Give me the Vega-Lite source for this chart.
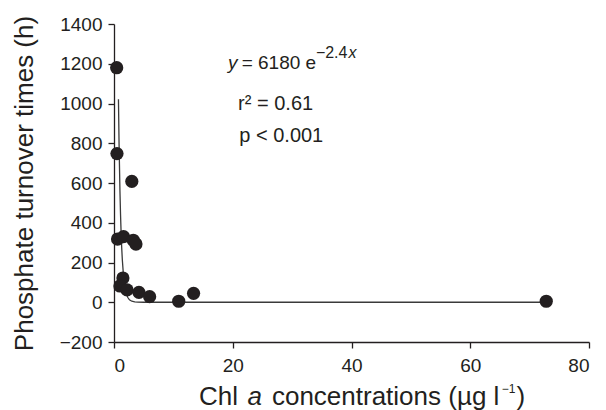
{
  "$schema": "https://vega.github.io/schema/vega-lite/v6.json",
  "width": 475,
  "height": 318,
  "autosize": "none",
  "padding": {"left": 114, "top": 24, "right": 17, "bottom": 68},
  "background": "white",
  "config": {
    "view": {"stroke": null},
    "font": "Liberation Sans",
    "axis": {
      "grid": false,
      "labelFont": "Liberation Sans",
      "labelFontSize": 19,
      "labelColor": "#231f20",
      "titleFont": "Liberation Sans",
      "titleFontSize": 26,
      "titleFontWeight": "normal",
      "titleColor": "#231f20",
      "domainColor": "#231f20",
      "tickColor": "#231f20",
      "domainWidth": 1.3,
      "tickWidth": 1.3,
      "tickSize": 6
    }
  },
  "datasets": {
    "points": [
      {"x": 0.45, "y": 1180},
      {"x": 0.5, "y": 748},
      {"x": 3.0, "y": 608},
      {"x": 0.6, "y": 318},
      {"x": 1.6, "y": 330},
      {"x": 3.25, "y": 312},
      {"x": 3.7, "y": 293},
      {"x": 1.5, "y": 122},
      {"x": 1.0, "y": 82},
      {"x": 2.2, "y": 62},
      {"x": 4.2, "y": 50},
      {"x": 6.0, "y": 28},
      {"x": 10.9, "y": 5},
      {"x": 13.4, "y": 45},
      {"x": 72.8, "y": 5}
    ],
    "fit": [
      {"x": 0.75, "y": 1021},
      {"x": 0.85, "y": 801},
      {"x": 1.0, "y": 561},
      {"x": 1.1, "y": 442},
      {"x": 1.2, "y": 347},
      {"x": 1.3, "y": 273},
      {"x": 1.4, "y": 215},
      {"x": 1.6, "y": 133},
      {"x": 1.8, "y": 82},
      {"x": 2.0, "y": 51},
      {"x": 2.3, "y": 25},
      {"x": 2.6, "y": 12},
      {"x": 3.0, "y": 5},
      {"x": 3.5, "y": 1.4},
      {"x": 4.0, "y": 0.4},
      {"x": 5.0, "y": 0},
      {"x": 73.0, "y": 0}
    ],
    "eqItalic": [
      {"x": 19.2, "y": 1176, "text": "y"}
    ],
    "eqMain": [
      {"x": 21.5, "y": 1176, "text": "= 6180 e"}
    ],
    "eqLines": [
      {"x": 20.9, "y": 969, "text": "r² = 0.61"},
      {"x": 21.1, "y": 805, "text": "p < 0.001"}
    ],
    "eqSuper": [
      {"x": 34.0, "y": 1227, "text": "−2.4"}
    ],
    "eqSuperItalic": [
      {"x": 39.5, "y": 1227, "text": "x"}
    ],
    "xtNormal": [
      {"x": 14.3, "y": -518, "text": "Chl"},
      {"x": 26.6, "y": -518, "text": "concentrations (µg l"},
      {"x": 67.8, "y": -518, "text": ")"}
    ],
    "xtItalic": [
      {"x": 22.5, "y": -518, "text": "a"}
    ],
    "xtSuper": [
      {"x": 65.3, "y": -455, "text": "−1"}
    ]
  },
  "encoding": {
    "x": {
      "field": "x",
      "type": "quantitative",
      "scale": {"domain": [0, 80], "nice": false, "zero": false},
      "axis": {"values": [0, 20, 40, 60, 80], "title": null, "labelPadding": 8}
    },
    "y": {
      "field": "y",
      "type": "quantitative",
      "scale": {"domain": [-200, 1400], "nice": false, "zero": false},
      "axis": {
        "values": [-200, 0, 200, 400, 600, 800, 1000, 1200, 1400],
        "format": "d",
        "title": "Phosphate turnover times (h)",
        "labelPadding": 6,
        "titlePadding": 22
      }
    }
  },
  "layer": [
    {
      "data": {"name": "fit"},
      "mark": {"type": "line", "color": "#3a3a3a", "strokeWidth": 1.3}
    },
    {
      "data": {"name": "points"},
      "mark": {"type": "point", "filled": true, "shape": "circle", "size": 175, "color": "#231f20", "opacity": 1}
    },
    {
      "data": {"name": "eqItalic"},
      "mark": {"type": "text", "align": "left", "baseline": "alphabetic", "fontSize": 19, "fontStyle": "italic", "color": "#231f20"},
      "encoding": {"text": {"field": "text"}}
    },
    {
      "data": {"name": "eqMain"},
      "mark": {"type": "text", "align": "left", "baseline": "alphabetic", "fontSize": 19, "color": "#231f20"},
      "encoding": {"text": {"field": "text"}}
    },
    {
      "data": {"name": "eqLines"},
      "mark": {"type": "text", "align": "left", "baseline": "alphabetic", "fontSize": 20, "color": "#231f20"},
      "encoding": {"text": {"field": "text"}}
    },
    {
      "data": {"name": "eqSuper"},
      "mark": {"type": "text", "align": "left", "baseline": "alphabetic", "fontSize": 16, "color": "#231f20"},
      "encoding": {"text": {"field": "text"}}
    },
    {
      "data": {"name": "eqSuperItalic"},
      "mark": {"type": "text", "align": "left", "baseline": "alphabetic", "fontSize": 16, "fontStyle": "italic", "color": "#231f20"},
      "encoding": {"text": {"field": "text"}}
    },
    {
      "data": {"name": "xtNormal"},
      "mark": {"type": "text", "align": "left", "baseline": "alphabetic", "fontSize": 26, "color": "#231f20"},
      "encoding": {"text": {"field": "text"}}
    },
    {
      "data": {"name": "xtItalic"},
      "mark": {"type": "text", "align": "left", "baseline": "alphabetic", "fontSize": 26, "fontStyle": "italic", "color": "#231f20"},
      "encoding": {"text": {"field": "text"}}
    },
    {
      "data": {"name": "xtSuper"},
      "mark": {"type": "text", "align": "left", "baseline": "alphabetic", "fontSize": 12, "color": "#231f20"},
      "encoding": {"text": {"field": "text"}}
    }
  ]
}
